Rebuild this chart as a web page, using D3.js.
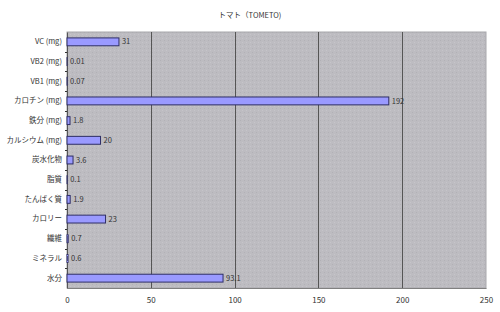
<!DOCTYPE html>
<html><head><meta charset="utf-8">
<script src="https://cdn.jsdelivr.net/npm/d3@7"></script>
<style>body{margin:0;background:#fff}svg{display:block}text{font-family:"Noto Sans CJK JP","Noto Sans",sans-serif;fill:#333}</style>
</head><body><svg id="c" width="500" height="312"></svg>
<script>
const title = "トマト（TOMETO)";
const categories = ["VC (mg)","VB2 (mg)","VB1 (mg)","カロチン (mg)","鉄分 (mg)","カルシウム (mg)","炭水化物","脂質","たんぱく質","カロリー","繊維","ミネラル","水分"];
const values = [31,0.01,0.07,192,1.8,20,3.6,0.1,1.9,23,0.7,0.6,93.1];
const valueLabels = ["31","0.01","0.07","192","1.8","20","3.6","0.1","1.9","23","0.7","0.6","93.1"];
const xTicks = [0,50,100,150,200,250];

const svg = d3.select("#c");
const m = {l:67, r:486, t:32, b:288};
const x = d3.scaleLinear().domain([0,250]).range([m.l, m.r]);
const y = d3.scaleBand().domain(categories).range([m.t, m.b]).paddingInner(0.6).paddingOuter(0.3);
const yb = d3.scaleBand().domain(categories).range([m.t, m.b]);

const defs = svg.append("defs");
const pat = defs.append("pattern").attr("id","dots").attr("width",4).attr("height",4).attr("patternUnits","userSpaceOnUse");
pat.append("rect").attr("width",4).attr("height",4).attr("fill","#bdbcc1");
pat.append("rect").attr("x",0).attr("y",0).attr("width",1).attr("height",1).attr("fill","#b2b1b6");
pat.append("rect").attr("x",2).attr("y",2).attr("width",1).attr("height",1).attr("fill","#c6c5ca");

svg.append("rect").attr("x",m.l).attr("y",m.t).attr("width",m.r-m.l).attr("height",m.b-m.t).attr("fill","url(#dots)")
  .attr("stroke","#a8a8ac").attr("stroke-width",1);

// grid
svg.append("g").selectAll("line").data(xTicks.slice(1,-1)).join("line")
  .attr("x1",d=>Math.round(x(d))+0.5).attr("x2",d=>Math.round(x(d))+0.5).attr("y1",m.t).attr("y2",m.b)
  .attr("stroke","#555").attr("stroke-width",1);

// x axis
const xa = svg.append("g").attr("transform",`translate(0,${m.b})`).call(d3.axisBottom(x).tickValues(xTicks).tickSize(0).tickPadding(9));
xa.select(".domain").attr("stroke","#808080");
xa.selectAll("text").attr("font-size",8).attr("fill","#333");

// y axis
const ya = svg.append("g").attr("transform",`translate(${m.l},0)`).call(d3.axisLeft(yb).tickSize(0).tickPadding(5));
ya.select(".domain").attr("stroke","#555");
ya.selectAll("text").attr("font-size",7.5).attr("fill","#333");
// category separator ticks
svg.append("g").selectAll("line").data(categories.slice(1)).join("line")
  .attr("x1",m.l-2).attr("x2",m.l).attr("y1",d=>Math.round(yb(d))+0.5).attr("y2",d=>Math.round(yb(d))+0.5)
  .attr("stroke","#333");

// bars
svg.append("g").selectAll("rect").data(values).join("rect")
  .attr("x",x(0)).attr("y",(d,i)=>y(categories[i]))
  .attr("width",d=>x(d)-x(0)).attr("height",y.bandwidth())
  .attr("fill","#9a9aff").attr("stroke","#2e2e66").attr("stroke-width",1);

// value labels
svg.append("g").selectAll("text").data(values).join("text")
  .attr("x",d=>x(d)+3).attr("y",(d,i)=>y(categories[i])+y.bandwidth()/2)
  .attr("dy","0.35em").attr("font-size",7.5).text((d,i)=>valueLabels[i]);

svg.append("text").attr("x",250).attr("y",18).attr("text-anchor","middle").attr("font-size",7.5).text(title);
</script></body></html>
